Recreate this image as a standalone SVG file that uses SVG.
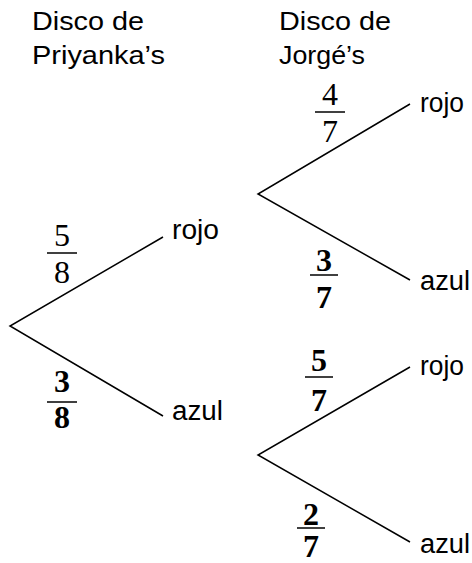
<svg xmlns="http://www.w3.org/2000/svg" width="472" height="563" viewBox="0 0 472 563">
<style>
.hd{font-family:"Liberation Sans",Arial,sans-serif;font-size:26px;fill:#000}
.lbl{font-family:"Liberation Sans",Arial,sans-serif;font-size:27px;fill:#000}
.num{font-family:"Liberation Serif","Times New Roman",serif;font-size:32px;fill:#000;text-anchor:middle}
.b{font-weight:bold}
.br{stroke:#000;stroke-width:1.5;fill:none}
.bar{stroke:#000;stroke-width:1.5}
</style>
<rect width="472" height="563" fill="#fff"/>
<g id="headers">
<text class="hd" x="32" y="30" textLength="112" lengthAdjust="spacingAndGlyphs">Disco de</text>
<text class="hd" x="32" y="64" textLength="133" lengthAdjust="spacingAndGlyphs">Priyanka’s</text>
<text class="hd" x="279" y="30" textLength="112" lengthAdjust="spacingAndGlyphs">Disco de</text>
<text class="hd" x="279" y="64" textLength="86" lengthAdjust="spacingAndGlyphs">Jorgé’s</text>
</g>
<g id="connectors">
<path class="br" d="M163,237 L10,326 L163,416"/>
<path class="br" d="M410,104 L258,194 L410,280"/>
<path class="br" d="M410,367 L258,455 L410,542"/>
</g>
<g id="p-rojo"><text class="lbl" x="172" y="239" textLength="47" lengthAdjust="spacingAndGlyphs">rojo</text></g>
<g id="p-azul"><text class="lbl" x="172" y="420" textLength="51" lengthAdjust="spacingAndGlyphs">azul</text></g>
<g id="j1-rojo"><text class="lbl" x="420" y="112" textLength="44" lengthAdjust="spacingAndGlyphs">rojo</text></g>
<g id="j1-azul"><text class="lbl" x="420" y="290" textLength="50" lengthAdjust="spacingAndGlyphs">azul</text></g>
<g id="j2-rojo"><text class="lbl" x="420" y="375" textLength="44" lengthAdjust="spacingAndGlyphs">rojo</text></g>
<g id="j2-azul"><text class="lbl" x="420" y="553" textLength="50" lengthAdjust="spacingAndGlyphs">azul</text></g>
<g id="f58">
<text class="num" x="62" y="246">5</text>
<line class="bar" x1="47" y1="253" x2="77" y2="253"/>
<text class="num" x="62" y="283">8</text>
</g>
<g id="f38">
<text class="num b" x="62" y="392">3</text>
<line class="bar" x1="47" y1="402" x2="77" y2="402"/>
<text class="num b" x="62" y="428">8</text>
</g>
<g id="f47">
<text class="num" x="330" y="105">4</text>
<line class="bar" x1="315" y1="112" x2="345" y2="112"/>
<text class="num" x="330" y="142">7</text>
</g>
<g id="f37">
<text class="num b" x="324" y="271">3</text>
<line class="bar" x1="310" y1="275" x2="338" y2="275"/>
<text class="num b" x="324" y="308">7</text>
</g>
<g id="f57">
<text class="num b" x="319" y="371">5</text>
<line class="bar" x1="305" y1="377" x2="333" y2="377"/>
<text class="num b" x="319" y="411">7</text>
</g>
<g id="f27">
<text class="num b" x="311" y="525">2</text>
<line class="bar" x1="297" y1="528" x2="325" y2="528"/>
<text class="num b" x="311" y="557">7</text>
</g>
</svg>
